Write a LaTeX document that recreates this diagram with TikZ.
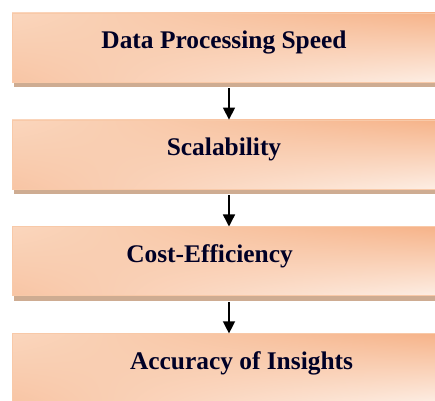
\documentclass[tikz,border=0pt]{standalone}
\usepackage{fontspec}
\setmainfont{Liberation Serif}
\usetikzlibrary{positioning,shadows,shadings,arrows.meta}
\definecolor{peachdark}{HTML}{F6B389}
\definecolor{peachmid}{HTML}{FAD6BD}
\definecolor{peachlight}{HTML}{FDEEE4}
\definecolor{peachedge}{HTML}{F8C9A8}
\definecolor{shadowtan}{HTML}{C9A386}
\begin{document}
\begin{tikzpicture}
\useasboundingbox (0,0) rectangle (435bp,401bp);
\tikzset{
  stage/.style={rectangle, minimum width=424bp, minimum height=69bp, inner sep=0pt,
    text height=0.7em, text depth=0.45em,
    draw=peachedge, line width=0.6bp,
    upper left=peachmid, upper right=peachdark, lower left=peachdark!70!peachlight, lower right=peachlight,
    drop shadow={shadow xshift=1.5bp, shadow yshift=-5.5bp, fill=shadowtan, opacity=0.9},
    font=\fontsize{25.5}{30}\selectfont\bfseries, text=black!85!blue},
  flow/.style={-{Triangle[length=12bp,width=12bp]}, line width=1.4bp, black}
}
\begin{scope}[node distance=37.3bp]
\node[stage] (Speed) at (224bp,353.5bp) {Data Processing Speed};
\node[stage, below=of Speed] (Scale) {Scalability};
\node[stage, below=of Scale] (Cost) {\hspace*{-29bp}Cost-Efficiency};
\node[stage, below=of Cost] (Accuracy) {Accuracy of Insights\hspace*{-35bp}};
\end{scope}

\begin{scope}[every edge/.style={draw, flow}]
    \path ([xshift=5bp,yshift=-6bp]Speed.south) edge ([xshift=5bp]Scale.north);
    \path ([xshift=5bp,yshift=-6bp]Scale.south) edge ([xshift=5bp]Cost.north);
    \path ([xshift=5bp,yshift=-6bp]Cost.south) edge ([xshift=5bp]Accuracy.north);
\end{scope}
\end{tikzpicture}
\end{document}
